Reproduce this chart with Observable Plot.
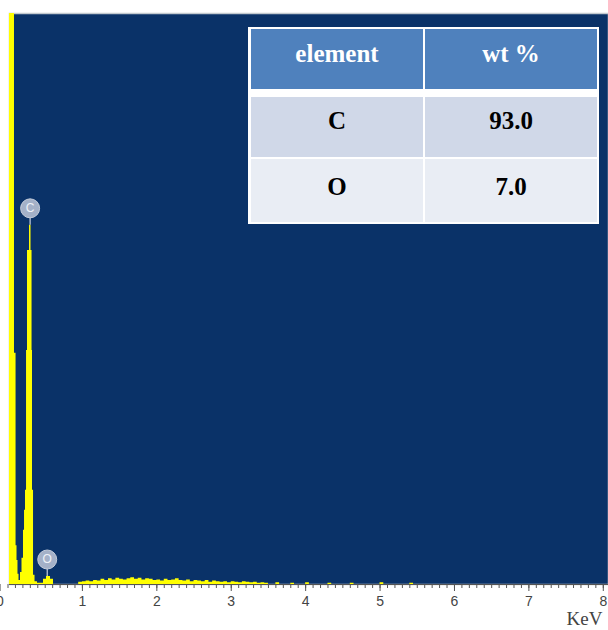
<!DOCTYPE html>
<html>
<head>
<meta charset="utf-8">
<script src="https://cdn.jsdelivr.net/npm/d3@7"></script>
<script src="https://cdn.jsdelivr.net/npm/@observablehq/plot@0.6"></script>
<style>
  html, body { margin: 0; padding: 0; background: #fff; }
  #wrap { position: relative; width: 608px; height: 630px; overflow: hidden; }
  #tbl {
    position: absolute; left: 248px; top: 27px; width: 351px; height: 197px;
    background: #fff;
    font-family: "Liberation Serif", "Times New Roman", serif; font-weight: bold; font-size: 25px;
  }
  #tbl div { position: absolute; display: flex; align-items: center; justify-content: center; box-sizing: border-box; }
  #tbl .c0 { left: 3px; width: 172px; }
  #tbl .c1 { left: 177px; width: 172px; }
  #tbl .h { top: 2px; height: 60px; background: #4f81bd; color: #fff; padding-bottom: 10px; }
  #tbl .r1 { top: 70px; height: 60px; background: #d0d8e8; color: #000; padding-bottom: 12px; }
  #tbl .r2 { top: 132px; height: 63px; background: #e9edf4; color: #000; padding-bottom: 8px; }
</style>
</head>
<body>
<div id="wrap"></div>
<script>
// ---- data ----
const keV = [0.020, 0.087, 0.108, 0.121, 0.134, 0.148, 0.168, 0.188, 0.208, 0.222, 0.235, 0.249, 0.262, 0.289, 0.309, 0.323, 0.329, 0.343, 0.363, 0.396, 0.477, 0.517, 0.571, 0.611,
  0.95, 1.00, 1.05, 1.10, 1.15, 1.20, 1.25, 1.30, 1.35, 1.40, 1.45, 1.50, 1.55, 1.60, 1.65, 1.70, 1.75, 1.80, 1.85, 1.90, 1.95,
  2.00, 2.05, 2.10, 2.15, 2.20, 2.25, 2.30, 2.35, 2.40, 2.45, 2.50, 2.55, 2.60, 2.65, 2.70, 2.75, 2.80, 2.85, 2.90, 2.95,
  3.00, 3.05, 3.10, 3.15, 3.20, 3.25, 3.30, 3.35, 3.40, 3.45, 3.50,
  3.60, 3.65, 3.80, 3.85, 4.00, 4.05, 4.30, 4.35, 4.60, 4.65, 5.00, 5.05, 5.40, 5.45, 8.07];
const counts = [1200, 405, 68, 42, 18, 7, 21, 46, 95, 130, 165, 410, 585, 629, 585, 410, 165, 16, 5, 2, 9, 14, 9, 0,
  4, 5, 6, 5, 7, 6, 9, 7, 10, 8, 11, 9, 8, 10, 12, 9, 11, 8, 10, 9, 7,
  8, 6, 9, 7, 8, 10, 7, 6, 8, 5, 7, 6, 5, 7, 4, 6, 5, 4, 5, 3,
  5, 4, 3, 5, 4, 3, 4, 2, 3, 2, 0,
  3, 0, 2, 0, 3, 0, 2, 0, 2, 0, 3, 0, 2, 0, 0];
const peakElements = ["C", "O"];
const peakKeV = [0.297, 0.527];
const peakCounts = [629, 14];
const tickLabels = [1, 2, 3, 4, 5, 6, 7, 8];
const tableHeader = ["element", "wt %"];
const tableElements = ["C", "O"];
const tableWt = ["93.0", "7.0"];

const spectrum = keV.map((k, i) => ({keV: k, counts: counts[i]}));
const peaks = peakElements.map((e, i) => ({el: e, keV: peakKeV[i], counts: peakCounts[i]}));

const plot = Plot.plot({
  width: 608,
  height: 630,
  marginLeft: 9,
  marginRight: 0,
  marginTop: 13,
  marginBottom: 46,
  style: {fontFamily: "'Liberation Sans', Arial, sans-serif", background: "#fff"},
  x: {domain: [0.02, 8.07], label: null},
  y: {domain: [0, 1000], axis: null},
  marks: [
    Plot.frame({fill: "#0a3268", stroke: "#c3c9cf", strokeWidth: 1.5}),
    Plot.areaY(spectrum, {x: "keV", y: "counts", curve: "step-after", fill: "#ffff00", clip: true}),
    Plot.ruleY([0], {stroke: "#555", strokeWidth: 1}),
    Plot.axisX({ticks: d3.range(0, 80.5, 1).map(d => d / 10), tickSize: 4, tickFormat: () => "", stroke: "#555", label: null}),
    Plot.axisX({ticks: tickLabels, tickSize: 7, tickPadding: 5, fontSize: 14, color: "#444", stroke: "#555", label: null}),
    Plot.axisX({ticks: [0], tickSize: 7, tickPadding: 5, fontSize: 14, color: "#444", dx: -8, label: null}),
    Plot.text(["KeV"], {frameAnchor: "bottom-right", dy: 40, dx: -6, fontSize: 19, fill: "#444", fontFamily: "'Liberation Serif', serif", textAnchor: "end"}),
    Plot.ruleX(peaks, {x: "keV", y1: "counts", y2: "counts", insetTop: -9, stroke: "#c9d1de", strokeWidth: 1.2}),
    Plot.dot(peaks, {x: "keV", y: "counts", dy: -17, r: 9.5, fill: "#a4b1c8", stroke: "#c4ccda", strokeWidth: 1}),
    Plot.text(peaks, {x: "keV", y: "counts", text: "el", dy: -17, fill: "#eef2f8", fontSize: 12})
  ]
});

const wrap = document.getElementById("wrap");
wrap.appendChild(plot);

const tbl = document.createElement("div");
tbl.id = "tbl";
const cells = [[tableHeader[0], "h c0"], [tableHeader[1], "h c1"]];
tableElements.forEach((e, i) => {
  const r = i === 0 ? "r1" : "r2";
  cells.push([e, r + " c0"]);
  cells.push([tableWt[i], r + " c1"]);
});
for (const [t, c] of cells) {
  const d = document.createElement("div");
  d.className = c;
  d.textContent = t;
  tbl.appendChild(d);
}
wrap.appendChild(tbl);
</script>
</body>
</html>
